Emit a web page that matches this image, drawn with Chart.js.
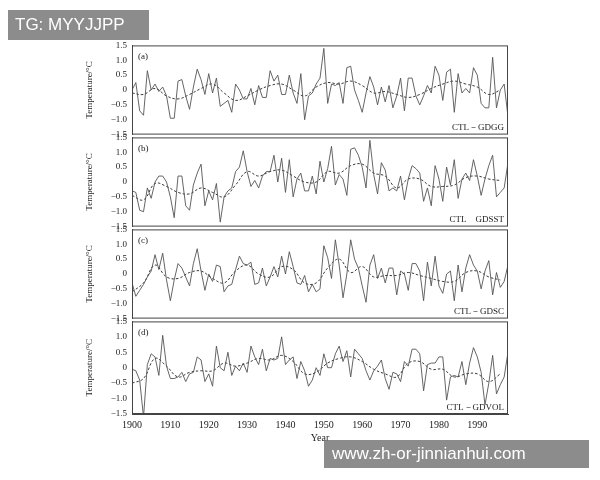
<!DOCTYPE html>
<html>
<head>
<meta charset="utf-8">
<script src="https://cdn.jsdelivr.net/npm/chart.js@4"></script>
<style>
  body { margin: 0; width: 600px; height: 480px; background: #fff; position: relative; overflow: hidden; font-family: "Liberation Serif", serif; }
  .pane { position: absolute; left: 82px; width: 433px; }
  .mark { position: absolute; font-family: "Liberation Sans", Arial, sans-serif; color: #fff; background: rgba(120,120,120,0.85); }
</style>
</head>
<body>
<div class="pane" style="top:38px;height:104px"><canvas id="pa"></canvas></div>
<div class="pane" style="top:130px;height:104px"><canvas id="pb"></canvas></div>
<div class="pane" style="top:222px;height:104px"><canvas id="pc"></canvas></div>
<div class="pane" style="top:314px;height:130px"><canvas id="pd"></canvas></div>
<div class="mark" style="left:8px;top:10px;width:141px;height:30px;font-size:17px;line-height:30px;padding-left:7px;box-sizing:border-box">TG: MYYJJPP</div>
<div class="mark" style="left:324px;top:440px;width:265px;height:28px;font-size:17px;line-height:28px;padding-left:8px;box-sizing:border-box">www.zh-or-jinnianhui.com</div>
<script>
// 年份
const years = Array.from({ length: 99 }, (_, i) => 1900 + i)
const smoothYears = Array.from({ length: 33 }, (_, i) => 1900 + i * 3)

// (a) CTL-GDGG
const rawA = [0.0,0.25,-0.7,-0.85,0.65,0.0,0.2,-0.05,0.1,-0.2,-0.95,-0.95,0.3,0.35,-0.2,-0.65,0.1,0.7,0.35,-0.15,
  0.55,-0.1,0.4,-0.55,-0.45,-0.35,-0.75,0.2,0.0,-0.3,-0.3,0.05,-0.5,0.15,-0.25,-0.25,0.65,0.3,0.5,-0.15,
  -0.15,0.5,-0.1,-0.45,0.55,-1.0,-0.2,-0.1,0.2,0.4,1.4,-0.45,0.2,0.15,0.25,-0.45,0.75,0.8,0.0,-0.35,
  -0.75,-0.1,0.45,0.1,-0.5,0.1,-0.4,0.15,-0.6,-0.2,0.4,-0.7,0.4,0.4,-0.2,-0.5,-0.2,0.15,-0.1,0.8,
  0.5,-0.35,0.6,0.7,-0.75,0.55,-0.1,0.05,-0.1,0.75,0.5,-0.45,-0.6,-0.6,1.1,-0.6,0.0,0.2,-0.9]
const smoothA = [-0.1,-0.15,0.05,-0.2,-0.3,-0.15,0.05,0.2,-0.1,-0.35,-0.2,0.0,0.15,0.2,0.0,-0.2,0.1,0.25,0.2,0.3,
  0.15,-0.1,-0.05,-0.15,-0.25,-0.15,0.05,0.2,0.3,0.2,0.1,-0.15,0.0]

// (b) CTL GDSST
const rawB = [-0.3,-0.35,-0.95,-1.0,-0.2,-0.55,0.0,0.2,0.2,0.0,-0.5,-1.2,0.2,0.2,-0.8,-0.95,-0.1,0.3,0.6,-0.8,
  -0.3,-0.6,-0.05,-1.35,-0.5,-0.3,-0.2,0.35,0.5,1.05,0.35,-0.15,0.05,-0.2,0.2,0.35,0.35,0.9,0.0,0.8,
  -0.35,0.75,-0.5,0.1,0.3,-0.3,-0.3,0.2,-0.4,0.7,0.0,0.45,1.2,-0.1,0.25,0.1,-0.45,1.1,1.15,0.9,
  0.5,-0.2,1.4,0.25,-0.4,0.65,0.4,-0.3,-0.2,-0.3,0.2,-0.6,0.1,0.55,0.45,0.3,-0.65,-0.2,-0.8,0.55,
  0.1,-0.65,0.5,-0.1,0.75,-0.55,0.1,0.3,0.05,0.75,0.2,-0.45,0.1,0.55,0.9,-0.5,-0.35,-0.2,0.65]
const smoothB = [-0.45,-0.6,-0.05,-0.15,-0.35,-0.4,-0.2,-0.35,-0.5,-0.1,0.35,0.2,0.35,0.4,0.2,0.0,0.0,0.35,0.3,0.55,
  0.6,0.3,0.2,-0.2,0.1,0.1,-0.15,-0.15,-0.1,0.15,0.2,0.1,0.05]

// (c) CTL-GDSC
const rawC = [-0.3,-0.75,-0.55,-0.35,-0.1,0.1,0.65,0.15,0.7,-0.2,-0.9,-0.2,0.35,0.2,-0.1,-0.4,0.35,0.85,0.1,-0.55,
  0.0,-0.25,0.3,0.25,-0.6,-0.4,-0.35,0.15,0.6,0.35,0.3,0.4,-0.35,-0.3,0.2,-0.4,-0.1,0.25,-0.1,0.6,
  0.0,0.75,0.25,-0.3,-0.35,-0.05,-0.6,-0.35,-0.6,-0.5,0.95,0.55,-0.15,1.15,0.3,-0.8,0.0,1.15,0.5,0.2,
  -0.4,-0.95,0.3,0.65,-0.15,0.2,-0.3,0.2,0.2,-0.7,0.1,0.0,-0.55,0.35,0.35,0.1,-0.9,0.4,-0.4,0.6,
  -0.4,-0.65,0.0,0.1,-0.9,0.3,-0.6,0.2,0.65,0.3,0.1,-0.5,0.1,0.45,-0.7,0.05,-0.45,-0.25,0.3]
const smoothC = [-0.6,-0.3,0.3,-0.1,-0.15,0.05,0.1,-0.15,-0.3,0.1,0.3,0.0,-0.1,0.25,0.15,-0.3,-0.3,0.2,0.5,0.05,
  0.25,-0.1,-0.05,-0.05,0.05,-0.05,-0.15,-0.25,-0.25,0.05,0.1,-0.1,-0.2]

// (d) CTL-GDVOL
const rawD = [-0.05,-0.1,-0.4,-1.6,0.1,0.45,0.35,-0.25,1.05,0.05,-0.35,-0.35,-0.3,-0.15,-0.45,-0.2,-0.15,0.35,0.25,-0.45,
  -0.2,-0.6,0.7,0.0,-0.1,0.5,-0.25,0.05,-0.1,0.15,-0.15,0.7,0.35,0.1,0.6,-0.1,0.3,0.25,0.3,1.0,
  0.1,0.25,0.35,-0.35,0.2,-0.1,-0.6,-0.4,0.0,-0.25,0.45,0.0,0.0,0.45,0.7,0.2,0.55,-0.3,0.6,0.45,
  0.3,-0.1,-0.4,-0.1,0.05,0.25,-0.35,-0.7,-0.15,-0.2,-0.45,0.2,0.05,0.6,0.6,0.45,-0.75,0.1,0.15,0.15,
  0.35,0.35,-1.05,-0.3,-0.25,-0.3,0.2,-0.55,0.15,0.65,0.35,-0.15,-1.2,-0.5,0.4,-0.85,-0.55,-0.3,0.5]
const smoothD = [-0.5,-0.35,0.3,0.05,-0.3,-0.15,-0.1,-0.1,0.15,0.05,0.15,0.3,0.25,0.4,0.2,-0.2,-0.15,0.15,0.3,0.35,
  0.2,-0.05,-0.2,-0.3,0.15,0.2,-0.05,-0.05,-0.3,-0.2,-0.2,-0.45,-0.2]

const yTicks = [-1.5, -1.0, -0.5, 0, 0.5, 1.0, 1.5]
const xTicks = [1900, 1910, 1920, 1930, 1940, 1950, 1960, 1970, 1980, 1990]

const panelText = {
  id: 'panelText',
  afterDraw(chart, args, opts) {
    const { ctx, chartArea: a } = chart
    ctx.save()
    ctx.strokeStyle = '#444'
    ctx.lineWidth = 1
    ctx.strokeRect(a.left + 0.5, a.top + 0.5, a.width - 1, a.height - 1)
    ctx.fillStyle = '#222'
    ctx.font = '9px "Liberation Serif"'
    ctx.textBaseline = 'top'
    ctx.textAlign = 'left'
    ctx.fillText(opts.tag, a.left + 6, a.top + 7)
    ctx.textBaseline = 'bottom'
    ctx.textAlign = 'right'
    ctx.fillText(opts.name, a.right - 4, a.bottom - 2)
    ctx.restore()
  }
}

function makePanel(id, raw, smooth, tag, name, showX) {
  new Chart(document.getElementById(id), {
    type: 'line',
    data: {
      datasets: [
        { data: years.map((x, i) => ({ x, y: raw[i] })), borderColor: '#555', borderWidth: 0.9, pointRadius: 0, tension: 0 },
        { data: smoothYears.map((x, i) => ({ x, y: smooth[i] })), borderColor: '#222', borderWidth: 0.9, borderDash: [2.5, 2], pointRadius: 0, tension: 0.4 }
      ]
    },
    options: {
      responsive: true,
      maintainAspectRatio: false,
      animation: false,
      layout: { padding: { top: 6, bottom: showX ? 0 : 6, right: 7 } },
      plugins: { legend: { display: false }, tooltip: { enabled: false }, panelText: { tag, name } },
      scales: {
        x: {
          type: 'linear', min: 1900, max: 1998,
          display: showX,
          grid: { display: false, drawTicks: true, tickLength: 4 },
          border: { color: '#444' },
          afterBuildTicks: s => { s.ticks = xTicks.map(v => ({ value: v })) },
          ticks: { autoSkip: false, maxRotation: 0, color: '#222', font: { family: 'Liberation Serif', size: 10 }, padding: 1, callback: v => String(v) },
          title: { display: showX, text: 'Year', color: '#222', font: { family: 'Liberation Serif', size: 10 }, padding: 0 }
        },
        y: {
          min: -1.5, max: 1.5,
          afterBuildTicks: s => { s.ticks = yTicks.map(v => ({ value: v })) },
          afterFit: s => { s.width = 50 },
          grid: { display: false, tickLength: 3 },
          border: { color: '#444' },
          ticks: {
            color: '#222', padding: 2,
            font: { family: 'Liberation Serif', size: 9 },
            callback: v => v === 0 ? '0' : (v < 0 ? '\u2212' + Math.abs(v).toFixed(1) : v.toFixed(1))
          },
          title: { display: true, text: 'Temperature/°C', color: '#222', font: { family: 'Liberation Serif', size: 9 }, padding: 2 }
        }
      }
    },
    plugins: [panelText]
  })
}

makePanel('pa', rawA, smoothA, '(a)', 'CTL\uFF0DGDGG', false)
makePanel('pb', rawB, smoothB, '(b)', 'CTL\u3000GDSST', false)
makePanel('pc', rawC, smoothC, '(c)', 'CTL\uFF0DGDSC', false)
makePanel('pd', rawD, smoothD, '(d)', 'CTL\uFF0DGDVOL', true)
</script>
</body>
</html>
